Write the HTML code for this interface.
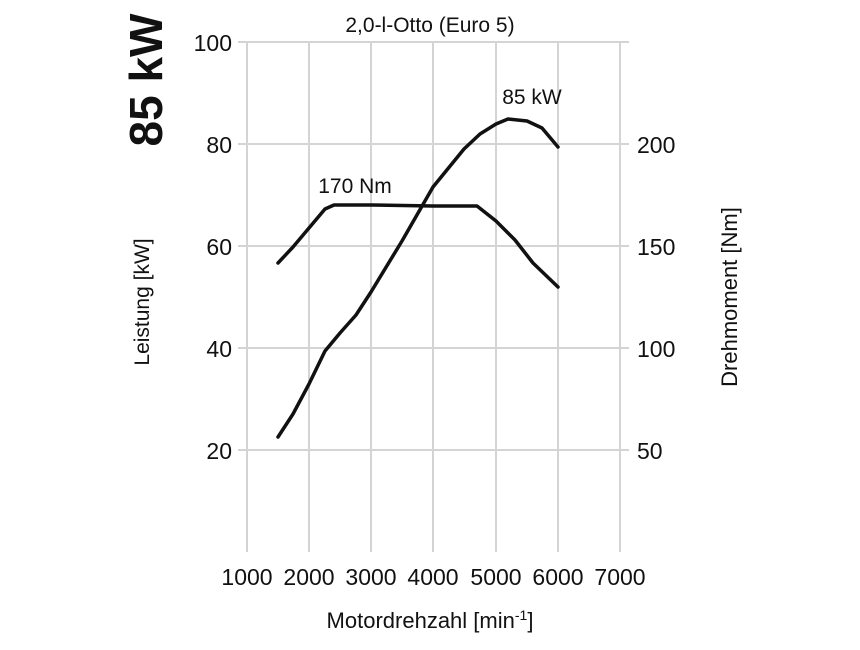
<!DOCTYPE html>
<html><head><meta charset="utf-8"><style>
html,body{margin:0;padding:0;background:#fff;}
svg text{font-family:"Liberation Sans",sans-serif;fill:#111;}
</style></head><body>
<svg width="860" height="645" viewBox="0 0 860 645" xmlns="http://www.w3.org/2000/svg">
<g stroke="#d4d4d4" stroke-width="2">
<line x1="247" y1="42" x2="247" y2="552"/><line x1="309" y1="42" x2="309" y2="552"/>
<line x1="371" y1="42" x2="371" y2="552"/><line x1="433" y1="42" x2="433" y2="552"/>
<line x1="496" y1="42" x2="496" y2="552"/><line x1="558" y1="42" x2="558" y2="552"/>
<line x1="620" y1="42" x2="620" y2="552"/>
<line x1="238" y1="42" x2="629" y2="42"/><line x1="238" y1="144" x2="629" y2="144"/>
<line x1="238" y1="246" x2="629" y2="246"/><line x1="238" y1="348" x2="629" y2="348"/>
<line x1="238" y1="450" x2="629" y2="450"/>
</g>
<g font-size="23" text-anchor="end">
<text x="232" y="51">100</text><text x="232" y="153">80</text><text x="232" y="255">60</text>
<text x="232" y="357">40</text><text x="232" y="459">20</text>
</g>
<g font-size="23" text-anchor="start">
<text x="637" y="153">200</text><text x="637" y="255">150</text><text x="637" y="357">100</text><text x="637" y="459">50</text>
</g>
<g font-size="23" text-anchor="middle">
<text x="247" y="585">1000</text><text x="309" y="585">2000</text><text x="371" y="585">3000</text>
<text x="433" y="585">4000</text><text x="496" y="585">5000</text><text x="558" y="585">6000</text><text x="620" y="585">7000</text>
<text x="430" y="32" font-size="21">2,0-l-Otto (Euro 5)</text>
<text x="430" y="628" font-size="22">Motordrehzahl [min<tspan font-size="14" dy="-8">-1</tspan><tspan dy="8">]</tspan></text>
<text x="355" y="193" font-size="21">170 Nm</text>
<text x="532" y="104" font-size="21">85 kW</text>
</g>
<text transform="translate(162,80) rotate(-90)" text-anchor="middle" font-size="46" font-weight="bold">85 kW</text>
<text transform="translate(149,302) rotate(-90)" text-anchor="middle" font-size="21">Leistung [kW]</text>
<text transform="translate(737,297) rotate(-90)" text-anchor="middle" font-size="22">Drehmoment [Nm]</text>
<g fill="none" stroke="#111" stroke-width="3.5" stroke-linejoin="round" stroke-linecap="round">
<path d="M278,437 L293,414 L309,384 L325,351 L340,333 L356,315 L371,292 L402,241 L433,187 L464,149 L480,134 L496,124 L508,119 L527,121 L542,128 L558,147"/>
<path d="M278,263 L293,247 L309,228 L325,209 L334,205 L371,205 L433,206 L477,206 L496,221 L515,240 L533,263 L558,287"/>
</g>
</svg>
</body></html>
